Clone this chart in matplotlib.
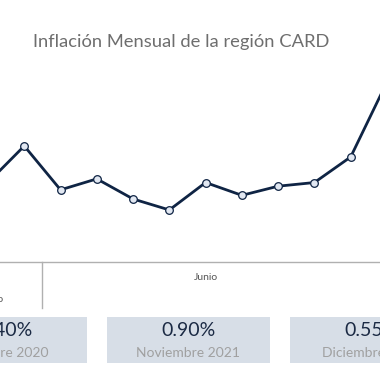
import matplotlib
matplotlib.use('Agg')
import matplotlib.pyplot as plt
from matplotlib.patches import Rectangle
from matplotlib.lines import Line2D

plt.rcParams['font.family'] = ['Lato', 'DejaVu Sans']

# Datos (valores estimados de la imagen, % mensual)
meses = ['Mayo', 'Junio', 'Julio', 'Agosto', 'Septiembre', 'Octubre', 'Noviembre',
         'Diciembre', 'Enero', 'Febrero', 'Marzo', 'Abril']
inflacion = [0.35, 0.55, 0.31, 0.37, 0.26, 0.20, 0.35, 0.28, 0.33, 0.35, 0.49, 0.90]

# Etiquetas visibles del eje inferior
etiq_eje = ['Mayo', 'Junio']

# Recuadros resumen
caja_valores = [0.40, 0.90, 0.55]
caja_fechas = ['Octubre 2020', 'Noviembre 2021', 'Diciembre 2021']

W = H = 380
fig = plt.figure(figsize=(3.8, 3.8), dpi=100)

def fx(px):
    return px / W

def fy(py):
    return 1 - py / H

# Ejes del gráfico (se extienden más allá del recorte)
ax = fig.add_axes([0, fy(230), 1, (230 - 60) / H])
x = list(range(len(inflacion)))
ax.plot(x, inflacion, color='#0f2444', linewidth=2.0, marker='o', markersize=5.5,
        markerfacecolor='#e2e8f2', markeredgecolor='#0f2444', markeredgewidth=0.9,
        clip_on=False, zorder=3)
paso = 36.27
ax.set_xlim(12 / paso, 12 / paso + W / paso)
ax.set_ylim(0.0904, 1.020)
ax.axis('off')

# Título
fig.text(fx(181), fy(42), 'Inflación Mensual de la región CARD', ha='center', va='center',
         fontsize=13.2, color='#6e6e6e')

# Eje de categorías inferior
fig.add_artist(Line2D([0, 1], [fy(262), fy(262)], color='#b0b0b0', linewidth=1.0))
fig.add_artist(Line2D([fx(42), fx(42)], [fy(262), fy(308)], color='#b0b0b0', linewidth=1.0))
fig.text(fx(206), fy(277), etiq_eje[1], ha='center', va='center', fontsize=7.5,
         color='#555555')
fig.text(fx(-10), fy(300), etiq_eje[0], ha='center', va='center', fontsize=7.5,
         color='#555555')

# Recuadros resumen
ancho, sep = 163, 20
x0 = -76
for i, (v, f) in enumerate(zip(caja_valores, caja_fechas)):
    izq = x0 + i * (ancho + sep)
    fig.add_artist(Rectangle((fx(izq), fy(363)), ancho / W, (363 - 317) / H,
                             facecolor='#d7dee7', edgecolor='none'))
    cx = izq + ancho / 2
    fig.text(fx(cx), fy(331), f'{v:.2f}%', ha='center', va='center', fontsize=14,
             color='#1b2a44')
    fig.text(fx(cx), fy(353), f, ha='center', va='center', fontsize=10,
             color='#a0a0a0')

fig.savefig('out.png', dpi=100)
